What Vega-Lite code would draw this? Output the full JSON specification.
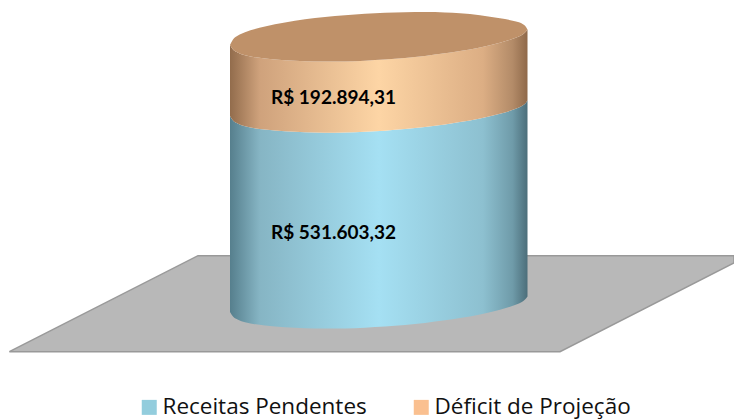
{"$schema":"https://vega.github.io/schema/vega-lite/v6.json","width":734,"height":420,"padding":0,"autosize":"none","background":"white","config":{"view":{"stroke":null}},
"datasets":{
"series":[{"serie":"Receitas Pendentes","valor":531603.32,"rotulo":"R$ 531.603,32","px":271,"meio":214900},{"serie":"Déficit de Projeção","valor":192894.31,"rotulo":"R$ 192.894,31","px":271,"meio":579900}],
"piso":[{"x":9.4,"a":-108540,"b":-108540},{"x":198,"a":-108540,"b":151960},{"x":560,"a":-108540,"b":151960},{"x":734,"a":132150,"b":151960}],
"cilindro":[
{"x":230,"base":-800,"meio":530800,"frente":723690,"fundo":723690},
{"x":233,"base":-13010,"meio":518590,"frente":711480,"fundo":738610},
{"x":238,"base":-21690,"meio":509910,"frente":702800,"fundo":749470},
{"x":245,"base":-28480,"meio":503120,"frente":696010,"fundo":758150},
{"x":265,"base":-37160,"meio":494440,"frente":687330,"fundo":773890},
{"x":285,"base":-42050,"meio":489550,"frente":682440,"fundo":784740},
{"x":305,"base":-44760,"meio":486840,"frente":679730,"fundo":793430},
{"x":325,"base":-45840,"meio":485760,"frente":678650,"fundo":799670},
{"x":345,"base":-45300,"meio":486300,"frente":679190,"fundo":804550},
{"x":365,"base":-43400,"meio":488200,"frente":681090,"fundo":808350},
{"x":385,"base":-40420,"meio":491180,"frente":684070,"fundo":811060},
{"x":405,"base":-36080,"meio":495520,"frente":688410,"fundo":812690},
{"x":425,"base":-30380,"meio":501220,"frente":694110,"fundo":813240},
{"x":445,"base":-23320,"meio":508280,"frente":701170,"fundo":812150},
{"x":460,"base":-17080,"meio":514520,"frente":707410,"fundo":809980},
{"x":480,"base":-7310,"meio":524290,"frente":717180,"fundo":804550},
{"x":500,"base":5440,"meio":537040,"frente":729930,"fundo":796140},
{"x":515,"base":18190,"meio":549790,"frente":742680,"fundo":788000},
{"x":523,"base":28500,"meio":560100,"frente":752990,"fundo":779860},
{"x":526,"base":35570,"meio":567170,"frente":760060,"fundo":772530},
{"x":527.5,"base":41250,"meio":572850,"frente":765740,"fundo":765740}]
},
"layer":[
{"data":{"name":"piso"},"mark":{"type":"area","clip":true,"fill":"#b8b8b8","stroke":"#999999","strokeWidth":1.5},"encoding":{"x":{"field":"x","type":"quantitative","scale":{"domain":[0,734],"nice":false,"zero":false},"axis":null},"y":{"field":"a","type":"quantitative","scale":{"domain":[-293870,845800],"nice":false,"zero":false},"axis":null},"y2":{"field":"b"}}},
{"data":{"name":"cilindro"},"mark":{"type":"area","interpolate":"monotone","fill":{"gradient":"linear","x1":0,"x2":1,"y1":0,"y2":0,"stops":[{"offset":0,"color":"#567f8d"},{"offset":0.1,"color":"#86b5c4"},{"offset":0.5,"color":"#a5e0f3"},{"offset":0.85,"color":"#8dc0d0"},{"offset":0.95,"color":"#6f9ba9"},{"offset":1,"color":"#4c6e7a"}]}},"encoding":{"x":{"field":"x","type":"quantitative"},"y":{"field":"base","type":"quantitative"},"y2":{"field":"meio"}}},
{"data":{"name":"cilindro"},"mark":{"type":"area","interpolate":"monotone","fill":{"gradient":"linear","x1":0,"x2":1,"y1":0,"y2":0,"stops":[{"offset":0,"color":"#926c4c"},{"offset":0.1,"color":"#cfa27c"},{"offset":0.5,"color":"#fdd5a5"},{"offset":0.85,"color":"#dcae84"},{"offset":0.95,"color":"#b38b68"},{"offset":1,"color":"#8f694a"}]}},"encoding":{"x":{"field":"x","type":"quantitative"},"y":{"field":"meio","type":"quantitative"},"y2":{"field":"frente"}}},
{"data":{"name":"cilindro"},"mark":{"type":"area","interpolate":"monotone","fill":"#bf9169"},"encoding":{"x":{"field":"x","type":"quantitative"},"y":{"field":"frente","type":"quantitative"},"y2":{"field":"fundo"}}},
{"data":{"name":"series"},"mark":{"type":"text","align":"left","baseline":"middle","font":"Lato","fontWeight":"bold","fontSize":19,"color":"black"},"encoding":{"x":{"field":"px","type":"quantitative"},"y":{"field":"meio","type":"quantitative"},"text":{"field":"rotulo"}}},
{"data":{"name":"series"},"mark":{"type":"point","filled":true,"opacity":0},"encoding":{"x":{"field":"px","type":"quantitative"},"y":{"field":"meio","type":"quantitative"},"color":{"field":"serie","type":"nominal","scale":{"domain":["Receitas Pendentes","Déficit de Projeção"],"range":["#93cddd","#fac090"]},"legend":{"title":null,"orient":"none","legendX":138,"legendY":396,"direction":"horizontal","symbolType":"square","symbolSize":225,"symbolOpacity":1,"symbolStrokeWidth":0,"labelFont":"Open Sans","labelFontSize":22.5,"labelColor":"#111111","columnPadding":43,"labelOffset":2,"labelLimit":300}}}}
]}
